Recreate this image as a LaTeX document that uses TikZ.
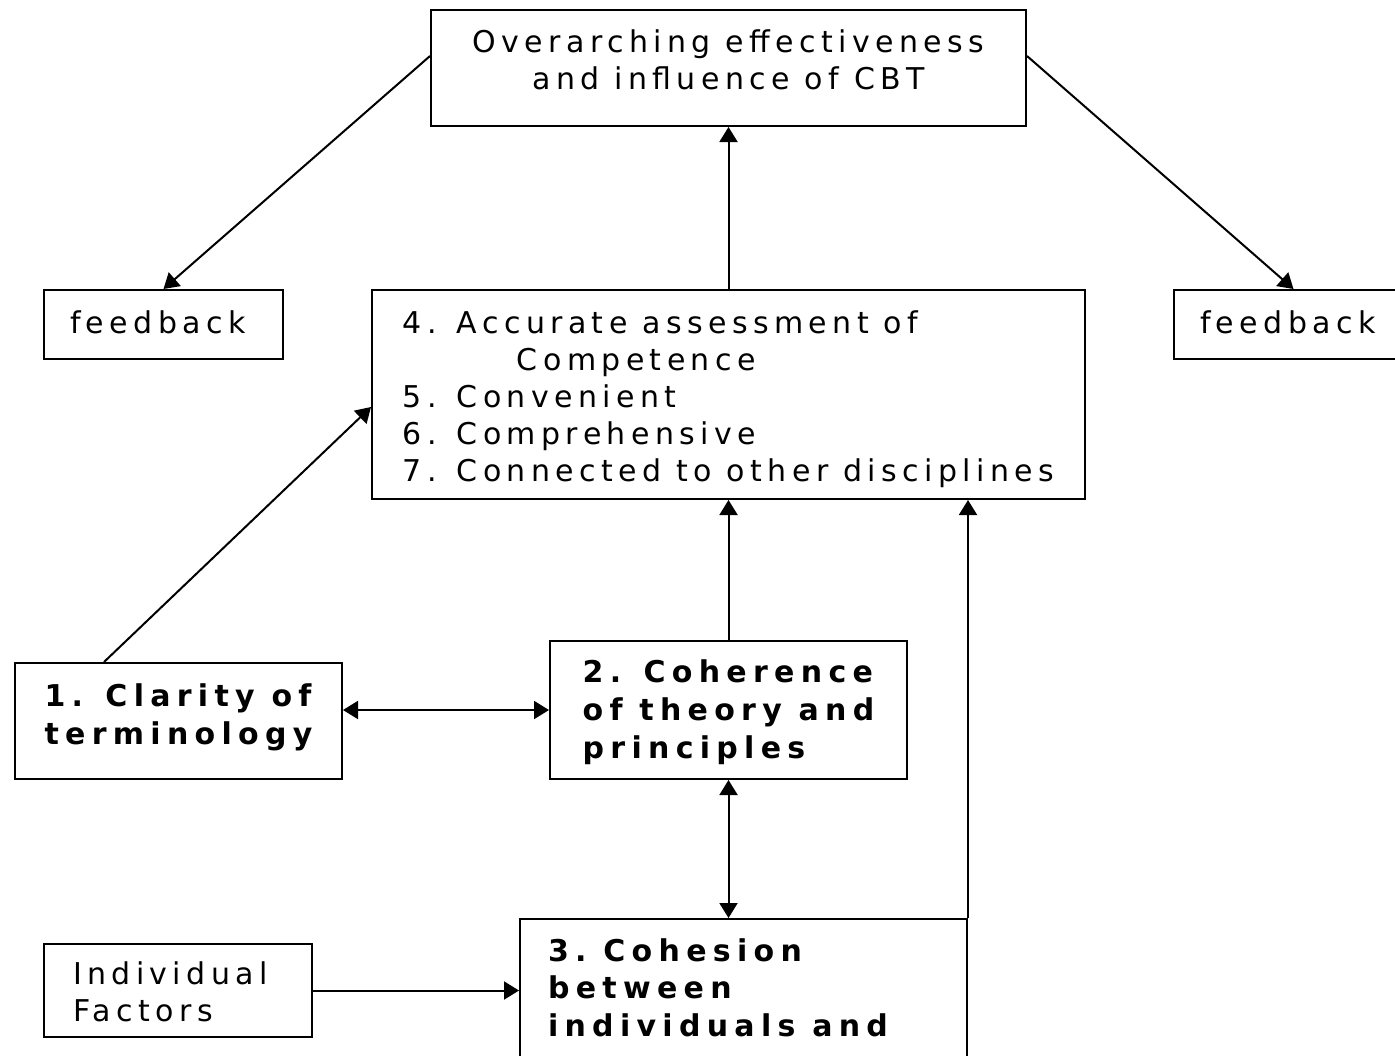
\documentclass[tikz,border=0pt]{standalone}
\usepackage{fontspec}
\setmainfont{DejaVu Sans}[LetterSpace=18,BoldFeatures={LetterSpace=21}]
\usetikzlibrary{arrows.meta}
\hyphenpenalty=10000

\begin{document}
\begin{tikzpicture}[>={Triangle[length=7.5pt,width=9pt]},x=0.5pt,y=-0.5pt,line width=1pt,
  every node/.style={font=\fontsize{15}{18.5}\selectfont},
  box/.style={draw,inner sep=0pt,anchor=north west,align=left},
  strong/.style={font=\fontsize{15}{18.8}\selectfont\bfseries}]
  \useasboundingbox (0,0) rectangle (1395,1055);
  \clip (0,0) rectangle (1395,1055);
  \node[box,align=center,minimum width=297.5pt,text height=39.5pt,text depth=18.5pt] (cbt) at (430,9) {Overarching effectiveness\\and influence of CBT};
  \node[box,inner xsep=13pt,text width=93.5pt,text height=21.5pt,text depth=13pt] (fbl) at (43,289) {feedback};
  \node[box,inner xsep=13pt,text width=93.5pt,text height=21.5pt,text depth=13pt] (fbr) at (1173,289) {feedback};
  \node[box,minimum width=356.5pt,text height=95.5pt,text depth=9pt] (crit) at (371,289) {4. Accurate assessment of\\\hspace*{57pt}Competence\\5. Convenient\\6. Comprehensive\\7. Connected to other disciplines};
  \node[box,strong,minimum width=163.5pt,text height=40.5pt,text depth=17.5pt] (clar) at (14,662) {1. Clarity of\\terminology};
  \node[box,strong,minimum width=178.5pt,text height=58.5pt,text depth=10.5pt] (coh) at (549,640) {2. Coherence\\of theory and\\principles};
  \node[box,strong,inner xsep=14pt,text width=195.5pt,text height=21pt,text depth=80pt,
    execute at begin node={\spaceskip=0.56em\xspaceskip=0.56em\relax}] (cohes) at (519,918) {3. Cohesion\\between\\individuals and};
  \node[box,inner xsep=14.5pt,text width=105pt,text height=20pt,text depth=26.5pt] (indiv) at (43,943) {Individual\\Factors};
  % feedback loops
  \draw[->] ([yshift=6pt]cbt.west) -- (fbl.north);
  \draw[->] ([yshift=6pt]cbt.east) -- (fbr.north);
  \draw[->] (crit.north) -- (cbt.south);
  % the three components
  \draw[->] ([xshift=45pt]clar.north west) -- ([yshift=-6.25pt]crit.west);
  \draw[<->] (clar.east |- coh.west) -- (coh.west);
  \draw[->] (coh.north) -- (crit.south);
  \draw[<->] (coh.south) -- (coh.south |- cohes.north);
  \draw[->] (indiv.east) -- (indiv.east -| cohes.west);
  \draw[->] (cohes.north east) -- (cohes.north east |- crit.south);
\end{tikzpicture}
\end{document}
